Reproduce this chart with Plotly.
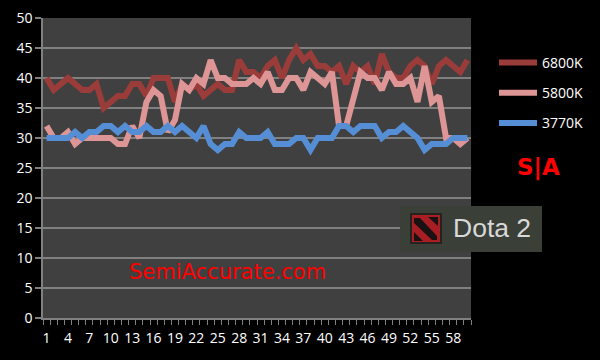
import plotly.graph_objects as go

categories = list(range(1, 61))
s6800 = [40,38,39,40,39,38,38,39,35,36,37,37,39,39,37,40,40,40,36,39,38,39,37,38,39,38,38,43,41,41,
         40,42,43,40,43,45,43,44,42,42,41,42,39,42,41,42,39,44,41,40,40,42,43,42,39,42,43,42,41,43]
s5800 = [32,30,30,31,29,30,30,30,30,30,29,29,32,30,36,38,37,31,33,39,38,40,39,43,40,40,39,39,39,40,
         39,41,38,38,40,40,38,41,40,39,41,32,32,37,41,40,40,38,41,39,39,40,36,42,36,37,30,30,29,30]
s3770 = [30,30,30,30,31,30,31,31,32,32,31,32,31,31,32,31,31,32,31,32,31,30,32,29,28,29,29,31,30,30,
         30,31,29,29,29,30,30,28,30,30,30,32,32,31,32,32,32,30,31,31,32,31,30,28,29,29,29,30,30,30]
series = [("6800K", s6800, "#993C3A"), ("5800K", s5800, "#DD9695"), ("3770K", s3770, "#558ED5")]
y_ticks = list(range(0, 51, 5))
x_ticks = categories[::3]

W, H = 600, 360
L, R, T, B = 43, 471, 18, 318
def px(x): return (x - L) / (R - L)
def py(y): return (B - y) / (B - T)

fig = go.Figure()
for i, (name, vals, col) in enumerate(series):
    fig.add_trace(go.Scatter(x=categories, y=vals, name=name, mode="lines", legendgroup=name,
                             line=dict(color=col, width=6, shape="linear"), cliponaxis=False))

def P(pts):
    return "M " + " L ".join(f"{px(a)} {py(b)}" for a, b in pts) + " Z"

black = dict(type="path", xref="paper", yref="paper", layer="above", fillcolor="#1A1212", line=dict(width=0))
shapes = [
    dict(type="rect", xref="paper", yref="paper", x0=px(400), x1=px(542), y0=py(252), y1=py(206),
         fillcolor="#3A3F38", line=dict(width=0), layer="above"),
    dict(type="rect", xref="paper", yref="paper", x0=px(411), x1=px(441), y0=py(243), y1=py(214),
         fillcolor="#A81E22", line=dict(color="#26221F", width=2), layer="above"),
    dict(black, path=P([(414, 218), (420, 218), (437, 236), (437, 240), (432, 240), (414, 223)])),
    dict(black, path=P([(428, 217), (438, 217), (438, 226)])),
    dict(black, path=P([(414, 232), (423, 241), (414, 241)])),
]
annotations = [
    dict(text="SemiAccurate.com", xref="paper", yref="paper", x=px(227.5), y=py(272), showarrow=False,
         font=dict(family="DejaVu Sans", size=21, color="#FF0000"), xanchor="center", yanchor="middle"),
    dict(text="<b>S|A</b>", xref="paper", yref="paper", x=px(538.5), y=py(167), showarrow=False,
         font=dict(family="DejaVu Sans", size=23, color="#FF0000"), xanchor="center", yanchor="middle"),
    dict(text="Dota 2", xref="paper", yref="paper", x=px(491.5), y=py(228), showarrow=False,
         font=dict(family="Liberation Sans", size=26.5, color="#D8D8D8"), xanchor="center", yanchor="middle"),
]

fig.update_layout(
    width=W, height=H, autosize=False,
    margin=dict(l=L, r=W - R, t=T, b=H - B, autoexpand=False),
    paper_bgcolor="#000000", plot_bgcolor="#404040",
    font=dict(family="Open Sans", size=14, color="#FFFFFF"),
    shapes=shapes, annotations=annotations,
    legend=dict(x=px(494), y=py(47), xanchor="left", yanchor="top", bgcolor="rgba(0,0,0,0)",
                itemwidth=38, tracegroupgap=9, font=dict(family="Open Sans", size=14, color="#FFFFFF"),
                itemclick=False, itemdoubleclick=False),
    xaxis=dict(range=[0.5, 60.5], tickmode="array", tickvals=x_ticks, ticktext=[str(v) for v in x_ticks],
               ticks="", ticklen=0, showgrid=False, zeroline=False, showline=True, linecolor="#808080",
               linewidth=1.5, tickangle=0, tickfont=dict(size=14, color="#FFFFFF"), ticklabelstandoff=6,
               minor=dict(tick0=0.5, dtick=1, ticks="outside", ticklen=5, tickcolor="#808080", tickwidth=1, showgrid=False)),
    yaxis=dict(range=[0, 50], tickmode="array", tickvals=y_ticks, ticks="outside", ticklen=6, tickcolor="#808080",
               tickwidth=1.5, gridcolor="#808080", gridwidth=1.5, zeroline=False, showline=True, ticksuffix="\u2002",
               linecolor="#808080", linewidth=1.5, tickfont=dict(size=14, color="#FFFFFF")),
)
fig.write_html("out.html", config=dict(displayModeBar=False),
               post_script="document.body.style.margin='0';document.body.style.background='#000';document.documentElement.style.overflow='hidden';")
